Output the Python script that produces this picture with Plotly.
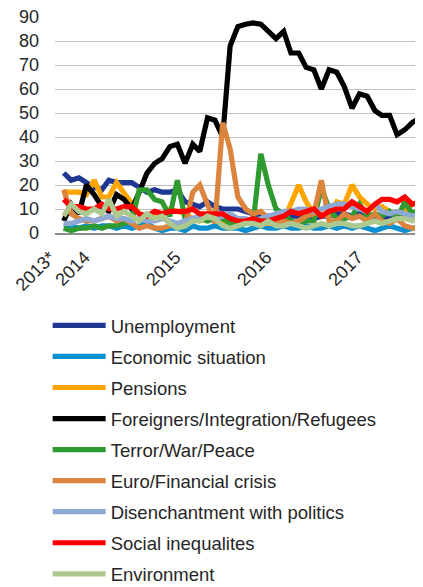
import pandas as pd
import plotly.graph_objects as go

# Monatliche Werte (Mitte des Monats), Aug 2013 bis Aug 2017
datas = pd.date_range('2013-08-15', periods=49, freq='MS') + pd.Timedelta(days=14)

desemprego = [25, 22, 23, 21, 19, 18, 22, 21, 21, 21, 19, 17, 18, 17, 17, 18, 13, 12, 11, 13,
              11, 10, 10, 10, 9, 8, 7, 7, 6, 6, 7, 7, 6, 6, 7, 7, 8, 8, 7, 8,
              7, 6, 7, 6, 8, 7, 8, 8, 9]
situacao_economica = [3, 3, 2, 3, 2, 3, 3, 2, 3, 2, 3, 4, 2, 1, 2, 2, 1, 3, 2, 2,
                      3, 2, 2, 2, 1, 2, 3, 2, 2, 3, 2, 2, 3, 2, 2, 3, 2, 3, 2, 3,
                      2, 1, 2, 3, 2, 1, 2, 2, 3]
pensoes = [17, 17, 17, 16, 22, 15, 15, 21, 17, 12, 8, 6, 7, 8, 10, 9, 8, 6, 5, 6,
           7, 5, 4, 4, 4, 5, 5, 4, 5, 5, 12, 20, 13, 8, 8, 7, 13, 12, 20, 15,
           12, 10, 11, 9, 8, 9, 12, 13, 17]
estrangeiros = [5, 12, 8, 20, 16, 11, 9, 16, 14, 10, 17, 25, 29, 31, 36, 37, 29, 37, 34, 48,
                47, 40, 78, 86, 87, 87.5, 87, 84, 81, 84, 75, 75, 69, 68, 60, 68, 67, 61, 52, 58,
                57, 51, 49, 49, 41, 43, 46, 48, 50]
terror = [2, 1, 2, 2, 3, 2, 3, 3, 4, 5, 18, 18, 14, 13, 7, 22, 6, 5, 6, 5,
          6, 6, 4, 3, 4, 4, 33, 20, 10, 8, 5, 4, 5, 5, 19, 10, 6, 6, 7, 12,
          7, 8, 7, 9, 6, 13, 8, 10, 9]
euro = [18, 8, 6, 5, 5, 6, 7, 5, 6, 4, 2, 3, 2, 2, 3, 4, 3, 17, 20, 12,
        4, 46, 35, 15, 10, 8, 9, 6, 4, 5, 4, 5, 7, 8, 22, 5, 5, 8, 6, 7,
        5, 8, 5, 4, 6, 3, 2, 2, 2]
desencanto = [4, 4, 5, 6, 5, 6, 7, 6, 6, 5, 6, 5, 5, 6, 5, 4, 5, 6, 7, 7,
              6, 7, 8, 6, 6, 5, 6, 7, 8, 9, 9, 10, 10, 9, 10, 11, 12, 12, 11, 10,
              9, 12, 9, 8, 9, 8, 7, 8, 8]
desigualdade = [14, 11, 11, 10, 10, 12, 10, 10, 11, 11, 8, 7, 9, 8, 9, 9, 9, 10, 8, 8,
                8, 8, 6, 5, 5, 6, 5, 5, 6, 7, 9, 8, 9, 10, 7, 9, 10, 10, 13, 11,
                9, 12, 14, 14, 13, 15, 12, 13, 14]
ambiente = [7, 12, 9, 8, 10, 8, 14, 7, 9, 7, 5, 8, 6, 7, 4, 2, 3, 5, 5, 7,
            6, 3, 2, 3, 4, 4, 3, 5, 3, 3, 4, 3, 2, 3, 4, 3, 4, 4, 3, 3,
            4, 5, 4, 5, 6, 6, 5, 7, 5]

nomes = ['Unemployment', 'Economic situation', 'Pensions', 'Foreigners/Integration/Refugees',
         'Terror/War/Peace', 'Euro/Financial crisis', 'Disenchantment with politics',
         'Social inequalites', 'Environment']
series = [desemprego, situacao_economica, pensoes, estrangeiros, terror, euro,
          desencanto, desigualdade, ambiente]
cores = ['#1F3894', '#0A90D0', '#FFA500', '#000000', '#2E9A30', '#DB843D',
         '#8EA9D4', '#FF0000', '#ADC98F']

tick_vals = ['2013-08-15', '2014-01-01', '2015-01-01', '2016-01-01', '2017-01-01']
tick_text = ['2013*', '2014', '2015', '2016', '2017']

fig = go.Figure()
for nome, valores, cor in zip(nomes, series, cores):
    fig.add_trace(go.Scatter(
        x=datas, y=valores, name=nome, mode='lines',
        legendgroup=nome,  # um grupo por serie -> espaco entre itens
        line={'color': cor, 'width': 5.2},
    ))

# a pagina tem margem de 8px no body -> figura um pouco menor e deslocada
fig.update_layout(
    width=415, height=579,
    plot_bgcolor='white', paper_bgcolor='white',
    margin={'l': 47, 'r': 0, 't': 9, 'b': 354, 'autoexpand': False},
    font={'family': 'Liberation Sans, Arial, sans-serif', 'color': '#262626', 'size': 18},
    showlegend=True,
    legend={
        'x': -0.02, 'y': -0.342, 'xanchor': 'left', 'yanchor': 'top',
        'font': {'size': 18.5},
        'itemwidth': 53,
        'tracegroupgap': 4,
        'maxheight': 500,
        'bgcolor': 'rgba(0,0,0,0)',
    },
    xaxis={
        'type': 'date',
        'range': ['2013-08-11', '2017-08-27'],
        'tickvals': tick_vals, 'ticktext': tick_text,
        'tickangle': -45,
        'showgrid': False,
        'showline': True, 'linecolor': '#8C8C8C', 'linewidth': 1.5,
        'ticks': '',
        'ticklabelshift': -6,
        'ticklabelstandoff': 5,
        'ticklabeloverflow': 'allow',
    },
    yaxis={
        'range': [0, 90],
        'tickvals': list(range(0, 91, 10)),
        'showgrid': True, 'gridcolor': '#BFBFBF', 'gridwidth': 1,
        'zeroline': False,
        'ticks': '',
        'ticklabelstandoff': 15,
        'ticklabeloverflow': 'allow',
    },
)

fig.write_html("out.html")
